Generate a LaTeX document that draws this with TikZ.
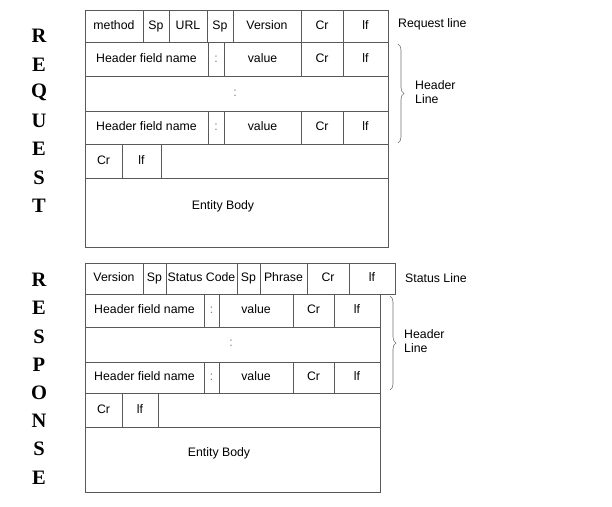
\documentclass[tikz,border=0pt]{standalone}
\usepackage{fontspec}
\setmainfont{Liberation Sans}
\newfontfamily\titlefont{Liberation Serif}
\usetikzlibrary{decorations.pathreplacing}
\tikzset{
  cellbox/.style={draw=black!65, line width=0.7pt, inner sep=0pt, outer sep=0pt, text height=8.8pt, text depth=2.6pt, font=\fontsize{12.3}{14}\selectfont},
  lbl/.style={inner sep=0pt, anchor=west, font=\fontsize{12.3}{14}\selectfont},
  plain/.style={inner sep=0pt, font=\fontsize{12.3}{14}\selectfont},
  bigletter/.style={inner sep=0pt, font=\titlefont\bfseries\fontsize{20.5}{22}\selectfont},
  bracedeco/.style={draw=black!55, line width=0.6pt, decorate, decoration={brace, amplitude=6pt}}
}
\newcommand\cellnode[6]{\node[cellbox, minimum width={(#4-#2)*1pt}, minimum height={(#5-#3)*1pt}] (#1) at ({(#2+#4)/2},{(#3+#5)/2}) {#6};}
\begin{document}
\begin{tikzpicture}[x=1pt,y=-1pt]
\useasboundingbox[fill=white] (0,0) rectangle (612,506);
% ---------- REQUEST ----------
\cellnode{rq1}{85}{10}{143}{42}{method}
\cellnode{rq2}{143}{10}{169}{42}{Sp}
\cellnode{rq3}{169}{10}{207}{42}{URL}
\cellnode{rq4}{207}{10}{233}{42}{Sp}
\cellnode{rq5}{233}{10}{301}{42}{Version}
\cellnode{rq6}{301}{10}{343}{42}{Cr}
\cellnode{rq7}{343}{10}{388}{42}{lf}
\cellnode{rh1}{85}{42}{208}{76}{Header field name}
\cellnode{rh2}{208}{42}{224}{76}{\textcolor{black!50}{:}}
\cellnode{rh3}{224}{42}{301}{76}{value}
\cellnode{rh4}{301}{42}{343}{76}{Cr}
\cellnode{rh5}{343}{42}{388}{76}{lf}
\cellnode{rdots}{85}{76}{388}{111}{}
\node[plain, text=black!50] (rdotstxt) at (235,93) {:};
\cellnode{rg1}{85}{111}{208}{144}{Header field name}
\cellnode{rg2}{208}{111}{224}{144}{\textcolor{black!50}{:}}
\cellnode{rg3}{224}{111}{301}{144}{value}
\cellnode{rg4}{301}{111}{343}{144}{Cr}
\cellnode{rg5}{343}{111}{388}{144}{lf}
\cellnode{rc1}{85}{144}{122}{178}{Cr}
\cellnode{rc2}{122}{144}{161}{178}{lf}
\cellnode{rc3}{161}{144}{388}{178}{}
\cellnode{rbody}{85}{178}{388}{247}{}
\node[plain] (rbodytxt) at (223,206) {Entity Body};
\node[lbl] (reqline) at (398,24) {Request line};
\draw[bracedeco] (398,44) -- (398,143) coordinate (rbrend);
\node[lbl, align=left] (rhl) at (415,92) {Header\\Line};
% REQUEST letters
\foreach \L [count=\i from 0] in {R,E,Q,U,E,S,T} {
  \node[bigletter] (reqlet\i) at (39,{36+28.3*\i}) {\L};
}
% ---------- RESPONSE ----------
\cellnode{sq1}{85}{263}{143}{294}{Version}
\cellnode{sq2}{143}{263}{166}{294}{Sp}
\cellnode{sq3}{166}{263}{237}{294}{Status Code}
\cellnode{sq4}{237}{263}{260}{294}{Sp}
\cellnode{sq5}{260}{263}{307}{294}{Phrase}
\cellnode{sq6}{307}{263}{349}{294}{Cr}
\cellnode{sq7}{349}{263}{395}{294}{lf}
\cellnode{sh1}{85}{294}{204}{327}{Header field name}
\cellnode{sh2}{204}{294}{219}{327}{\textcolor{black!50}{:}}
\cellnode{sh3}{219}{294}{293}{327}{value}
\cellnode{sh4}{293}{294}{334}{327}{Cr}
\cellnode{sh5}{334}{294}{380}{327}{lf}
\cellnode{sdots}{85}{327}{380}{362}{}
\node[plain, text=black!50] (sdotstxt) at (231,343) {:};
\cellnode{sg1}{85}{362}{204}{393}{Header field name}
\cellnode{sg2}{204}{362}{219}{393}{\textcolor{black!50}{:}}
\cellnode{sg3}{219}{362}{293}{393}{value}
\cellnode{sg4}{293}{362}{334}{393}{Cr}
\cellnode{sg5}{334}{362}{380}{393}{lf}
\cellnode{sc1}{85}{393}{122}{427}{Cr}
\cellnode{sc2}{122}{393}{158}{427}{lf}
\cellnode{sc3}{158}{393}{380}{427}{}
\cellnode{sbody}{85}{427}{380}{492}{}
\node[plain] (sbodytxt) at (219,453) {Entity Body};
\node[lbl] (statline) at (405,278) {Status Line};
\draw[bracedeco] (390,296) -- (390,390) coordinate (sbrend);
\node[lbl, align=left] (shl) at (404,341) {Header\\Line};
% RESPONSE letters
\foreach \L [count=\i from 0] in {R,E,S,P,O,N,S,E} {
  \node[bigletter] (reslet\i) at (39,{280+28.2*\i}) {\L};
}
\end{tikzpicture}
\end{document}
